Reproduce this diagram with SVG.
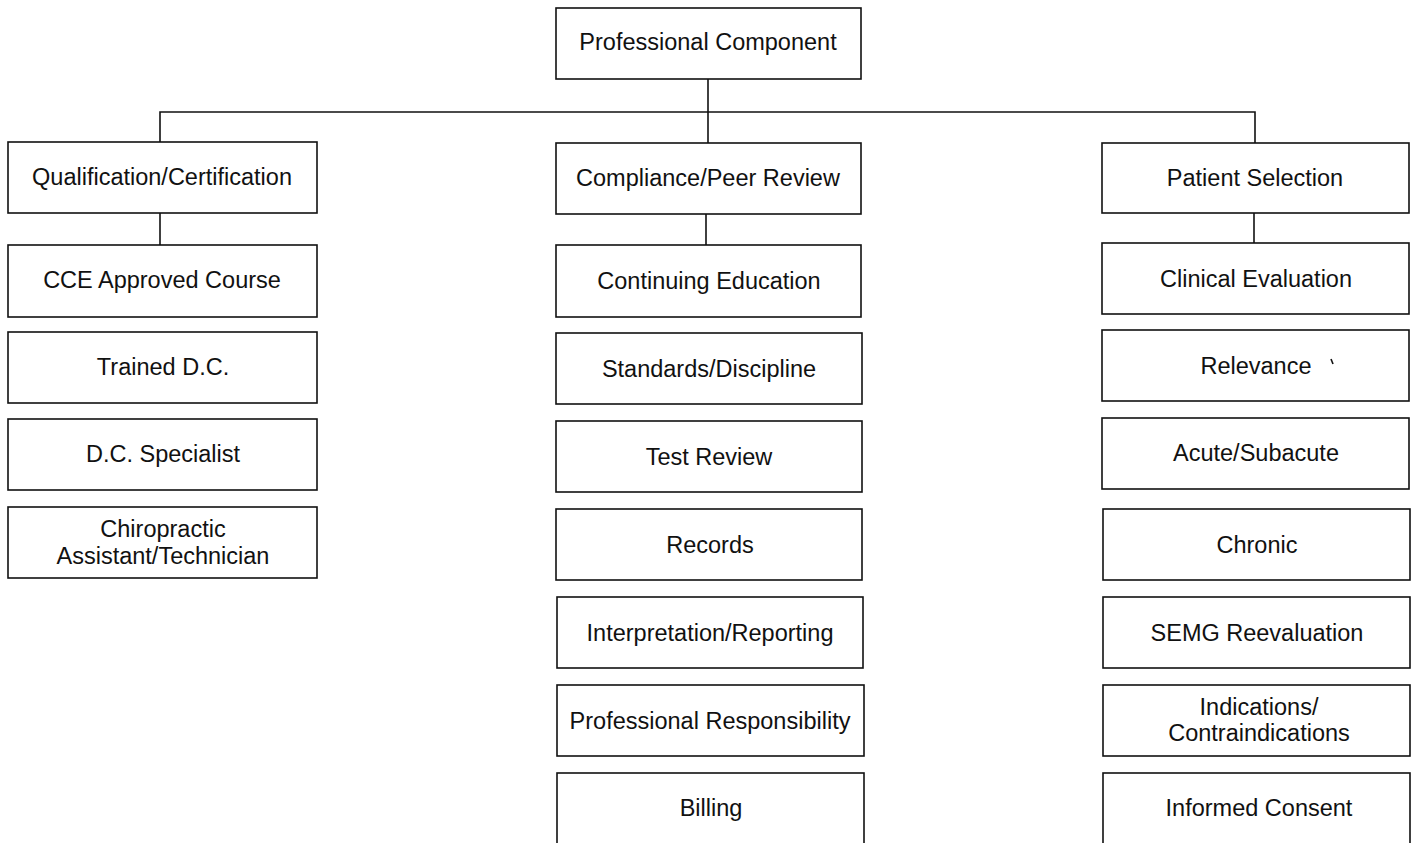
<svg xmlns="http://www.w3.org/2000/svg" width="1414" height="843" viewBox="0 0 1414 843">
  <style>
    .box { fill: #fff; stroke: #111; stroke-width: 1.6; }
    .lbl { font-family: "Liberation Sans", Arial, sans-serif; font-size: 23.5px; fill: #111; text-anchor: middle; dominant-baseline: central; }
    .wire { fill: none; stroke: #111; stroke-width: 1.6; }
  </style>
  <rect width="1414" height="843" fill="#fff"/>

  <!-- connectors -->
  <g id="connectors">
    <path class="wire" d="M708 79 V143"/>
    <path class="wire" d="M160 142 V112 H1255 V143"/>
    <path class="wire" d="M160 213 V245"/>
    <path class="wire" d="M706 214 V245"/>
    <path class="wire" d="M1254 213 V243"/>
  </g>

  <!-- root -->
  <g id="professional-component">
    <rect class="box" x="556" y="8" width="305" height="71"/>
    <text class="lbl" x="708" y="42">Professional Component</text>
  </g>

  <!-- left column -->
  <g id="qualification-certification">
    <rect class="box" x="8" y="142" width="309" height="71"/>
    <text class="lbl" x="162" y="177">Qualification/Certification</text>
  </g>
  <g id="cce-approved-course">
    <rect class="box" x="8" y="245" width="309" height="72"/>
    <text class="lbl" x="162" y="280">CCE Approved Course</text>
  </g>
  <g id="trained-dc">
    <rect class="box" x="8" y="332" width="309" height="71"/>
    <text class="lbl" x="163" y="367">Trained D.C.</text>
  </g>
  <g id="dc-specialist">
    <rect class="box" x="8" y="419" width="309" height="71"/>
    <text class="lbl" x="163" y="454">D.C. Specialist</text>
  </g>
  <g id="chiropractic-assistant">
    <rect class="box" x="8" y="507" width="309" height="71"/>
    <text class="lbl" x="163" y="529">Chiropractic</text>
    <text class="lbl" x="163" y="556">Assistant/Technician</text>
  </g>

  <!-- middle column -->
  <g id="compliance-peer-review">
    <rect class="box" x="556" y="143" width="305" height="71"/>
    <text class="lbl" x="708" y="178">Compliance/Peer Review</text>
  </g>
  <g id="continuing-education">
    <rect class="box" x="556" y="245" width="305" height="72"/>
    <text class="lbl" x="709" y="281">Continuing Education</text>
  </g>
  <g id="standards-discipline">
    <rect class="box" x="556" y="333" width="306" height="71"/>
    <text class="lbl" x="709" y="369">Standards/Discipline</text>
  </g>
  <g id="test-review">
    <rect class="box" x="556" y="421" width="306" height="71"/>
    <text class="lbl" x="709" y="457">Test Review</text>
  </g>
  <g id="records">
    <rect class="box" x="556" y="509" width="306" height="71"/>
    <text class="lbl" x="710" y="545">Records</text>
  </g>
  <g id="interpretation-reporting">
    <rect class="box" x="557" y="597" width="306" height="71"/>
    <text class="lbl" x="710" y="633">Interpretation/Reporting</text>
  </g>
  <g id="professional-responsibility">
    <rect class="box" x="557" y="685" width="307" height="71"/>
    <text class="lbl" x="710" y="721">Professional Responsibility</text>
  </g>
  <g id="billing">
    <rect class="box" x="557" y="773" width="307" height="80"/>
    <text class="lbl" x="711" y="808">Billing</text>
  </g>

  <!-- right column -->
  <g id="patient-selection">
    <rect class="box" x="1102" y="143" width="307" height="70"/>
    <text class="lbl" x="1255" y="178">Patient Selection</text>
  </g>
  <g id="clinical-evaluation">
    <rect class="box" x="1102" y="243" width="307" height="71"/>
    <text class="lbl" x="1256" y="279">Clinical Evaluation</text>
  </g>
  <g id="relevance">
    <rect class="box" x="1102" y="330" width="307" height="71"/>
    <text class="lbl" x="1256" y="366">Relevance</text>
    <path d="M1331 359 L1333 364" stroke="#111" stroke-width="1.6"/>
  </g>
  <g id="acute-subacute">
    <rect class="box" x="1102" y="418" width="307" height="71"/>
    <text class="lbl" x="1256" y="453">Acute/Subacute</text>
  </g>
  <g id="chronic">
    <rect class="box" x="1103" y="509" width="307" height="71"/>
    <text class="lbl" x="1257" y="545">Chronic</text>
  </g>
  <g id="semg-reevaluation">
    <rect class="box" x="1103" y="597" width="307" height="71"/>
    <text class="lbl" x="1257" y="633">SEMG Reevaluation</text>
  </g>
  <g id="indications-contraindications">
    <rect class="box" x="1103" y="685" width="307" height="71"/>
    <text class="lbl" x="1259" y="707">Indications/</text>
    <text class="lbl" x="1259" y="733">Contraindications</text>
  </g>
  <g id="informed-consent">
    <rect class="box" x="1103" y="773" width="307" height="80"/>
    <text class="lbl" x="1259" y="808">Informed Consent</text>
  </g>
</svg>
